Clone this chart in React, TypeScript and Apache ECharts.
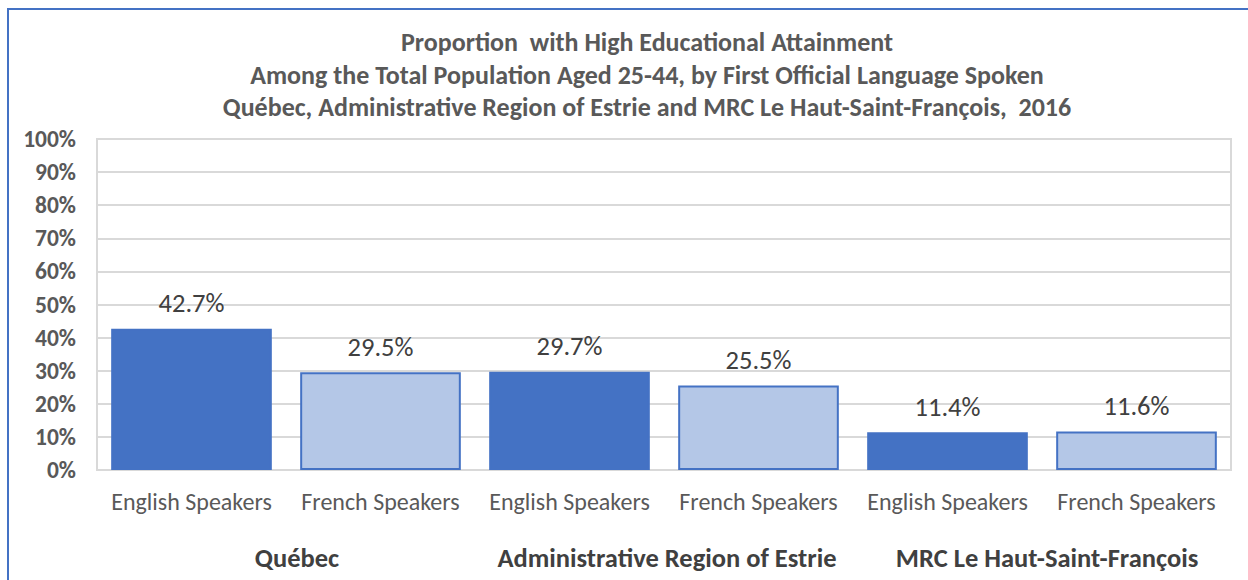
import React, { useEffect, useRef } from "react";
import * as echarts from "echarts";

const categories = [
  "English Speakers",
  "French Speakers",
  "English Speakers",
  "French Speakers",
  "English Speakers",
  "French Speakers",
];
const values = [42.7, 29.5, 29.7, 25.5, 11.4, 11.6];
const groups = ["Québec", "Administrative Region of Estrie", "MRC Le Haut-Saint-François"];
const yTicks = { min: 0, max: 100, interval: 10 };
const titleLines = [
  "Proportion  with High Educational Attainment",
  "Among the Total Population Aged 25-44, by First Official Language Spoken",
  "Québec, Administrative Region of Estrie and MRC Le Haut-Saint-François,  2016",
];

const FONT = "Carlito, Lato, sans-serif";
const DARK = "#4472C4";
const LIGHT = "#B4C7E7";
const groupPadLeft = [22, 6, 10];

export default function App() {
  const ref = useRef<HTMLDivElement>(null);
  useEffect(() => {
    if (!ref.current) return;
    const chart = echarts.init(ref.current, null, { renderer: "svg" });
    chart.setOption({
      animation: false,
      backgroundColor: "#ffffff",
      textStyle: { fontFamily: FONT },
      title: {
        text: titleLines.join("\n"),
        left: 642,
        textAlign: "center",
        top: 21,
        textStyle: {
          fontFamily: FONT,
          fontSize: 26,
          fontWeight: "bold",
          color: "#595959",
          lineHeight: 32.5,
        },
      },
      graphic: [
        {
          type: "rect",
          shape: { x: 8, y: 9, width: 1300, height: 640 },
          style: { fill: "none", stroke: "#4472C4", lineWidth: 2 },
          silent: true,
        },
      ],
      grid: {
        left: 97,
        right: 17,
        top: 139,
        bottom: 110,
        show: true,
        borderColor: "#D9D9D9",
        borderWidth: 2,
        backgroundColor: "transparent",
      },
      xAxis: [
        {
          type: "category",
          data: categories,
          axisLine: { show: true, lineStyle: { color: "#D9D9D9", width: 2 } },
          axisTick: { show: false },
          axisLabel: {
            interval: 0,
            margin: 19,
            fontFamily: FONT,
            fontSize: 24,
            color: "#595959",
          },
        },
        {
          type: "category",
          data: groups.map((g, i) => ({
            value: g,
            textStyle: { padding: [0, 0, 0, groupPadLeft[i]] },
          })),
          position: "bottom",
          offset: 70,
          axisLine: { show: false },
          axisTick: { show: false },
          axisLabel: {
            interval: 0,
            margin: 4,
            fontFamily: FONT,
            fontSize: 26.5,
            fontWeight: "bold",
            color: "#404040",
          },
        },
      ],
      yAxis: {
        type: "value",
        min: yTicks.min,
        max: yTicks.max,
        interval: yTicks.interval,
        axisLine: { show: false },
        axisTick: { show: false },
        splitLine: { lineStyle: { color: "#D9D9D9", width: 2 } },
        axisLabel: {
          formatter: (v: number) => `${v}%`,
          margin: 21,
          fontFamily: FONT,
          fontSize: 23.5,
          fontWeight: "bold",
          color: "#595959",
        },
      },
      series: [
        {
          type: "bar",
          xAxisIndex: 0,
          barCategoryGap: "15%",
          data: values.map((v, i) => ({
            value: v,
            itemStyle: {
              color: i % 2 === 0 ? DARK : LIGHT,
              borderColor: DARK,
              borderWidth: 2,
            },
          })),
          label: {
            show: true,
            position: "top",
            distance: 12,
            formatter: (p: any) => `${p.value.toFixed(1)}%`,
            fontFamily: FONT,
            fontSize: 26.5,
            color: "#404040",
          },
        },
      ],
    });
    return () => chart.dispose();
  }, []);
  return (
    <div
      ref={ref}
      style={{ position: "fixed", left: 0, top: 0, width: 1248, height: 580 }}
    />
  );
}
